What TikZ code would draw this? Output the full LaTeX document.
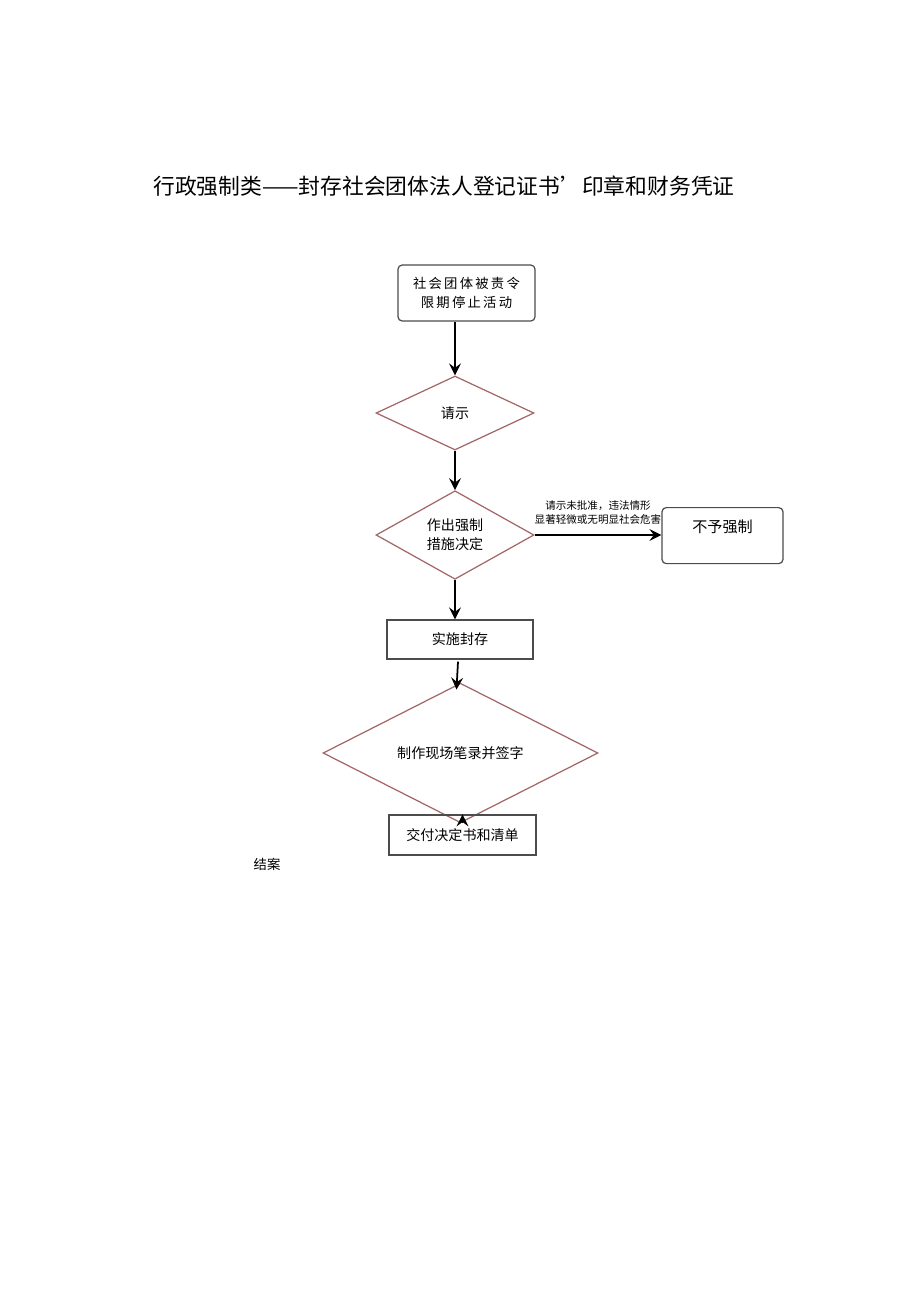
\documentclass[tikz,border=0pt]{standalone}
\usepackage{fontspec}
\setmainfont{Noto Sans CJK SC}
\usetikzlibrary{arrows,calc,positioning,shapes.geometric}
\tikzset{
  stepnode/.style={draw=black!70, line width=0.35pt, font=\fontsize{4}{5.5}\selectfont, align=center},
  roundbox/.style={stepnode, rounded corners=1.2pt},
  decide/.style={stepnode, draw=black!60!red!60, diamond, inner sep=0pt},
  flow/.style={-stealth, line width=0.5pt}
}
\begin{document}
\begin{tikzpicture}
\useasboundingbox (0,0) rectangle (9.2,-13.01);
\node[font=\fontsize{6.2}{7}\selectfont] (title) at (4.44,-1.86) {行政强制类——封存社会团体法人登记证书'印章和财务凭证};

\node[roundbox, minimum width=1.37cm, minimum height=0.56cm, font=\fontsize{3.8}{5.6}\selectfont] (stop) at (4.665,-2.93) {社\,会\,团\,体\,被\,责\,令\\限\,期\,停\,止\,活\,动};
\node[decide, minimum width=1.58cm, minimum height=0.74cm] (ask) at (4.55,-4.13) {请示};
\node[decide, minimum width=1.58cm, minimum height=0.88cm] (decision) at (4.55,-5.35) {作出强制\\措施决定};
\node[roundbox, minimum width=1.21cm, minimum height=0.56cm, anchor=north] (none) at (7.225,-5.07) {};
\node[stepnode, draw=none, font=\fontsize{4.3}{5}\selectfont] (nonetext) at (7.225,-5.27) {不予强制};
\node[stepnode, minimum width=1.46cm, minimum height=0.39cm] (seal) at (4.60,-6.395) {实施封存};
\node[decide, minimum width=2.75cm, minimum height=0.66cm] (record) at (4.605,-7.53) {制作现场笔录并签字};
\node[stepnode, minimum width=1.47cm, minimum height=0.40cm] (deliver) at (4.625,-8.35) {交付决定书和清单};
\node[font=\fontsize{3.8}{5}\selectfont] (close) at (2.67,-8.64) {结案};

\draw[flow] (stop.south -| ask.north) -- (ask.north);
\draw[flow] (ask.south) -- (decision.north);
\draw[flow] (decision.east) -- (none.west |- decision.east)
  node[midway, above=-0.5pt, font=\fontsize{3}{3.8}\selectfont, align=center] (why) {请示未批准，违法情形\\显著轻微或无明显社会危害};
\draw[flow] (decision.south) -- (seal.north -| decision.south);
\draw[flow] ($(seal.south)+(-0.02,-0.02)$) coordinate (sealout) -- ($(record.north)+(-0.04,-0.07)$);
\draw[flow] (record.south -| deliver.north) -- (deliver.north);
\end{tikzpicture}
\end{document}
